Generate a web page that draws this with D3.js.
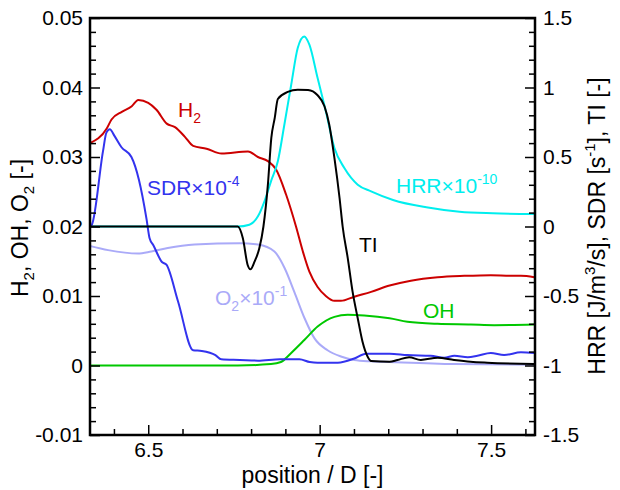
<!DOCTYPE html>
<html><head><meta charset="utf-8">
<script src="https://cdn.jsdelivr.net/npm/d3@7"></script>
<style>
body{margin:0;background:#fff;}
svg{display:block;font-family:"Liberation Sans",Arial,Helvetica,sans-serif;}
</style></head>
<body>
<svg id="chart" width="620" height="490"></svg>
<script>
// ---------- data ----------
const xTicks = [6.5, 7, 7.5];
const xMinorTicks = [6.4, 6.6, 6.7, 6.8, 6.9, 7.1, 7.2, 7.3, 7.4, 7.6];
const yLeftTicks = [-0.01, 0, 0.01, 0.02, 0.03, 0.04, 0.05];
const yLeftLabels = ["-0.01", "0", "0.01", "0.02", "0.03", "0.04", "0.05"];
const yRightTicks = [-1.5, -1, -0.5, 0, 0.5, 1, 1.5];
const yRightLabels = ["-1.5", "-1", "-0.5", "0", "0.5", "1", "1.5"];
const xLabels = ["6.5", "7", "7.5"];

// H2 (left axis)
const h2X = [6.330,6.379,6.393,6.423,6.452,6.471,6.500,6.524,6.554,6.578,6.607,6.631,6.670,6.714,6.791,6.820,6.849,6.873,6.902,6.931,6.951,6.970,6.994,7.018,7.043,7.062,7.101,7.150,7.204,7.266,7.344,7.422,7.499,7.558,7.587,7.626];
const h2Y = [0.0320,0.0341,0.0354,0.0365,0.0373,0.0382,0.0378,0.0368,0.0348,0.0343,0.0329,0.0316,0.0312,0.0305,0.0308,0.0300,0.0294,0.0282,0.0246,0.0200,0.0164,0.0135,0.0113,0.0100,0.0093,0.0093,0.0099,0.0106,0.0115,0.0122,0.0127,0.0129,0.0130,0.0129,0.0129,0.0127];

// SDR x 1e-4 (left axis)
const sdrX = [6.330,6.336,6.368,6.378,6.388,6.402,6.422,6.451,6.473,6.495,6.504,6.515,6.540,6.553,6.587,6.631,6.656,6.696,6.713,6.767,6.820,6.884,6.941,6.971,6.994,7.053,7.101,7.135,7.204,7.256,7.324,7.363,7.393,7.432,7.460,7.499,7.538,7.587,7.626];
const sdrY = [0.0200,0.0203,0.0308,0.0335,0.0340,0.0330,0.0314,0.0300,0.0267,0.0211,0.0183,0.0173,0.0149,0.0145,0.0092,0.0022,0.0021,0.0015,0.0009,0.0008,0.0007,0.0009,0.0009,0.0005,0.0004,0.0004,0.0010,0.0017,0.0017,0.0015,0.0014,0.0011,0.0014,0.0012,0.0014,0.0018,0.0015,0.0019,0.0018];

// O2 x 1e-1 (left axis)
const o2X = [6.330,6.383,6.470,6.509,6.557,6.635,6.767,6.820,6.868,6.898,6.926,6.956,6.985,7.023,7.062,7.101,7.150,7.204,7.393,7.626];
const o2Y = [0.0172,0.0166,0.0161,0.0164,0.0169,0.0174,0.0176,0.0174,0.0164,0.0140,0.0106,0.0068,0.0039,0.0022,0.0013,0.0008,0.0006,0.0005,0.0002,0.0001];

// OH (left axis)
const ohX = [6.330,6.761,6.858,6.887,6.917,6.956,6.994,7.043,7.082,7.130,7.204,7.256,7.344,7.441,7.509,7.626];
const ohY = [0,0,0.0002,0.0005,0.0018,0.0037,0.0056,0.0070,0.0073,0.0072,0.0068,0.0063,0.0060,0.0059,0.0058,0.0059];

// HRR x 1e-10 (right axis)
const hrrX = [6.330,6.761,6.795,6.820,6.839,6.858,6.878,6.897,6.917,6.936,6.955,6.970,6.994,7.018,7.043,7.072,7.111,7.150,7.214,7.311,7.408,7.505,7.626];
const hrrY = [0,0,0.013,0.073,0.181,0.325,0.469,0.732,1.020,1.284,1.367,1.308,1.068,0.829,0.565,0.421,0.301,0.253,0.191,0.138,0.106,0.095,0.090];

// TI (right axis)
const tiX = [6.330,6.761,6.776,6.790,6.798,6.810,6.824,6.836,6.849,6.859,6.869,6.878,6.907,6.936,6.966,6.994,7.014,7.028,7.043,7.058,7.067,7.082,7.096,7.111,7.125,7.140,7.150,7.204,7.227,7.261,7.295,7.344,7.392,7.440,7.489,7.626];
const tiY = [0,0,-0.085,-0.277,-0.308,-0.253,-0.157,0.0,0.301,0.637,0.781,0.917,0.968,0.984,0.982,0.944,0.865,0.732,0.493,0.205,0.0,-0.229,-0.469,-0.660,-0.829,-0.937,-0.968,-0.973,-0.960,-0.941,-0.960,-0.944,-0.960,-0.973,-0.980,-0.989];

// ---------- chart ----------
const svg = d3.select("#chart");
const L = 90, R = 535, T = 18, B = 435;
const x = d3.scaleLinear().domain([6.3302, 7.628]).range([L, R]);
const yL = d3.scaleLinear().domain([-0.01, 0.05]).range([B, T]);
const yR = d3.scaleLinear().domain([-1.5, 1.5]).range([B, T]);

svg.append("clipPath").attr("id","clip").append("rect")
  .attr("x",L).attr("y",T).attr("width",R-L).attr("height",B-T);

const plot = svg.append("g").attr("clip-path","url(#clip)");
function drawLine(xs, ys, yScale, color){
  const pts = xs.map((v,i)=>[v, ys[i]]);
  plot.append("path").datum(pts)
    .attr("fill","none").attr("stroke",color).attr("stroke-width",2)
    .attr("stroke-linejoin","round")
    .attr("d", d3.line().x(d=>x(d[0])).y(d=>yScale(d[1])).curve(d3.curveMonotoneX));
}
const cH2="#cc0000", cSDR="#3333ee", cO2="#aaaaf8", cOH="#00c800", cHRR="#00eeee", cTI="#000000";
drawLine(o2X, o2Y, yL, cO2);
drawLine(ohX, ohY, yL, cOH);
drawLine(h2X, h2Y, yL, cH2);
drawLine(hrrX, hrrY, yR, cHRR);
drawLine(sdrX, sdrY, yL, cSDR);
drawLine(tiX, tiY, yR, cTI);

// axes
const fs = "21px";
function styleAxis(g){
  g.select(".domain").remove();
  g.selectAll(".tick line").attr("stroke","#000").attr("stroke-width",1.5);
  g.selectAll(".tick text").attr("font-size",fs).attr("fill","#000")
   .attr("font-family","Liberation Sans, Arial, sans-serif");
}
function minorValues(lo, hi, step, majors){
  const out=[]; const n=Math.round((hi-lo)/step);
  for(let i=0;i<=n;i++){const v=+(lo+i*step).toFixed(6); if(!majors.some(m=>Math.abs(m-v)<1e-9)) out.push(v);}
  return out;
}
// left
svg.append("g").attr("transform",`translate(${L},0)`)
  .call(d3.axisLeft(yL).tickValues(yLeftTicks).tickSize(-10).tickPadding(7)
        .tickFormat((d,i)=>yLeftLabels[i])).call(styleAxis);
svg.append("g").attr("transform",`translate(${L},0)`)
  .call(d3.axisLeft(yL).tickValues(minorValues(-0.01,0.05,0.002,yLeftTicks)).tickSize(-6).tickFormat("")).call(styleAxis);
// right
svg.append("g").attr("transform",`translate(${R},0)`)
  .call(d3.axisRight(yR).tickValues(yRightTicks).tickSize(-10).tickPadding(8)
        .tickFormat((d,i)=>yRightLabels[i])).call(styleAxis);
svg.append("g").attr("transform",`translate(${R},0)`)
  .call(d3.axisRight(yR).tickValues(minorValues(-1.5,1.5,0.1,yRightTicks)).tickSize(-6).tickFormat("")).call(styleAxis);
// bottom
svg.append("g").attr("transform",`translate(0,${B})`)
  .call(d3.axisBottom(x).tickValues(xTicks).tickSize(-10).tickPadding(7)
        .tickFormat((d,i)=>xLabels[i])).call(styleAxis);
svg.append("g").attr("transform",`translate(0,${B})`)
  .call(d3.axisBottom(x).tickValues(xMinorTicks).tickSize(-6).tickFormat("")).call(styleAxis);

// frame
svg.append("rect").attr("x",L).attr("y",T).attr("width",R-L).attr("height",B-T)
  .attr("fill","none").attr("stroke","#000").attr("stroke-width",2.5);

// annotations
function label(xp, yp, color, parts){
  const t = svg.append("text").attr("x",xp).attr("y",yp).attr("fill",color).attr("font-size","21px");
  let shift = 0;
  parts.forEach(p=>{
    const s = t.append("tspan").text(p.t);
    let target = p.sub ? 6 : p.sup ? -9 : 0;
    s.attr("dy", target - shift); shift = target;
    if(p.sub||p.sup) s.attr("font-size","14px");
  });
  return t;
}
label(178, 117, cH2, [{t:"H"},{t:"2",sub:true}]);
label(147, 195, cSDR, [{t:"SDR×10"},{t:"-4",sup:true}]);
label(396, 193, cHRR, [{t:"HRR×10"},{t:"-10",sup:true}]);
label(359, 252, cTI, [{t:"TI"}]);
label(215, 305, cO2, [{t:"O"},{t:"2",sub:true},{t:"×10"},{t:"-1",sup:true}]);
label(423, 318, cOH, [{t:"OH"}]);

// axis titles
svg.append("text").attr("x",312.5).attr("y",483).attr("text-anchor","middle")
  .attr("font-size","23px").attr("fill","#000").text("position / D [-]");

function rotTitle(xp, yp, parts){
  const t = svg.append("text").attr("transform",`translate(${xp},${yp}) rotate(-90)`)
    .attr("text-anchor","middle").attr("font-size","23px").attr("fill","#000");
  let shift = 0;
  parts.forEach(p=>{
    const s = t.append("tspan").text(p.t);
    let target = p.sub ? 6 : p.sup ? -10 : 0;
    s.attr("dy", target - shift); shift = target;
    if(p.sub||p.sup) s.attr("font-size","15px");
  });
}
rotTitle(28, 228, [{t:"H"},{t:"2",sub:true},{t:", OH, O"},{t:"2",sub:true},{t:" [-]"}]);
rotTitle(605, 226, [{t:"HRR [J/m"},{t:"3",sup:true},{t:"/s], SDR [s"},{t:"-1",sup:true},{t:"], TI [-]"}]);
</script>
</body></html>
